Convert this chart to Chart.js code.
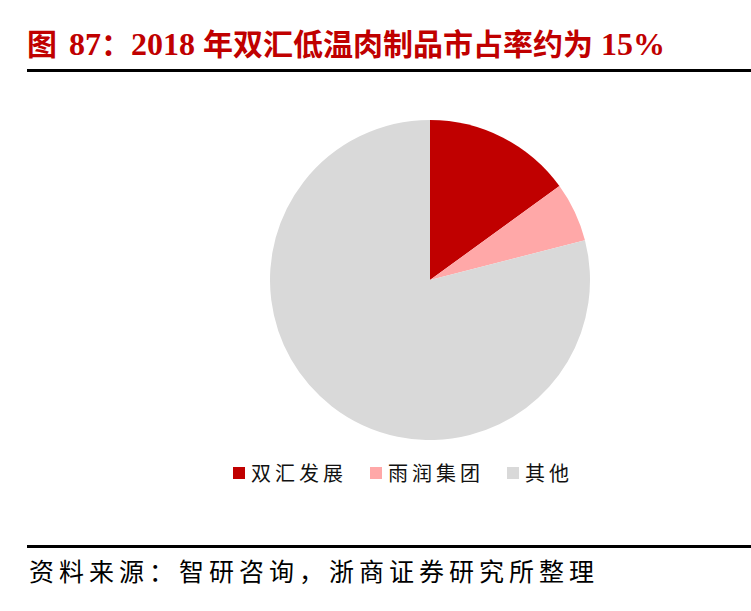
<!DOCTYPE html>
<html>
  <head>
    <meta charset="utf-8" />
    <title>双汇低温肉制品市占率</title>
    <style>
      body { margin: 0; background: #fff; width: 751px; height: 611px; position: relative; overflow: hidden; }
      .title {
        position: absolute; left: 27px; top: 24px; white-space: nowrap;
        font: bold 32px "Liberation Serif", "Noto Sans CJK SC", serif; color: #c00000; line-height: 36px;
      }
      .title .cn { font-family: "Noto Sans CJK SC", sans-serif; font-size: 30px; }
      .rule { position: absolute; left: 27px; right: 0; height: 3px; background: #000; }
      .pieBox { position: absolute; left: 270px; top: 120px; width: 320px; height: 320px; }
      .legend {
        position: absolute; left: 233px; top: 458px; display: flex; align-items: center;
        font: 20px "Noto Sans CJK SC", sans-serif; color: #111; letter-spacing: 4px; white-space: nowrap;
      }
      .legend .item { display: flex; align-items: center; margin-right: 23px; }
      .legend .box { width: 12px; height: 12px; margin-right: 6px; }
      .source {
        position: absolute; left: 29px; top: 553px; white-space: nowrap;
        font: 25px "Noto Sans CJK SC", sans-serif; color: #000; letter-spacing: 5px; line-height: 34px;
      }
    </style>
  </head>
  <body>
    <div class="title">
      <span class="cn" style="margin-right: 12px">图</span>87<span class="cn">：</span>2018 <span class="cn">年双汇低温肉制品市占率约为</span> 15%
    </div>
    <div class="rule" style="top: 69px"></div>
    <div class="pieBox"><canvas id="pieChart"></canvas></div>
    <div class="legend" id="legend"></div>
    <div class="rule" style="top: 545px"></div>
    <div class="source">资料来源：智研咨询，浙商证券研究所整理</div>

    <script src="https://cdn.jsdelivr.net/npm/chart.js@4/dist/chart.umd.min.js"></script>
    <script>
      // 2018 low-temperature meat market share (%)
      const companies = ["双汇发展", "雨润集团", "其他"];
      const shares = [15, 6, 79];
      const sliceColors = ["#c00000", "#ffa8a8", "#d9d9d9"];

      const ctx = document.getElementById("pieChart").getContext("2d");
      const pieChart = new Chart(ctx, {
        type: "pie",
        data: {
          labels: companies,
          datasets: [
            {
              data: shares,
              backgroundColor: sliceColors,
              borderWidth: 0,
            },
          ],
        },
        options: {
          responsive: true,
          maintainAspectRatio: false,
          animation: false,
          layout: { padding: 0 },
          plugins: {
            legend: { display: false },
            tooltip: { enabled: false },
          },
        },
      });

      // legend row under the pie
      const legend = document.getElementById("legend");
      for (let i = 0; i < companies.length; i++) {
        const item = document.createElement("div");
        item.className = "item";
        item.innerHTML =
          '<span class="box" style="background:' + sliceColors[i] + '"></span>' + companies[i];
        legend.appendChild(item);
      }
    </script>
  </body>
</html>
